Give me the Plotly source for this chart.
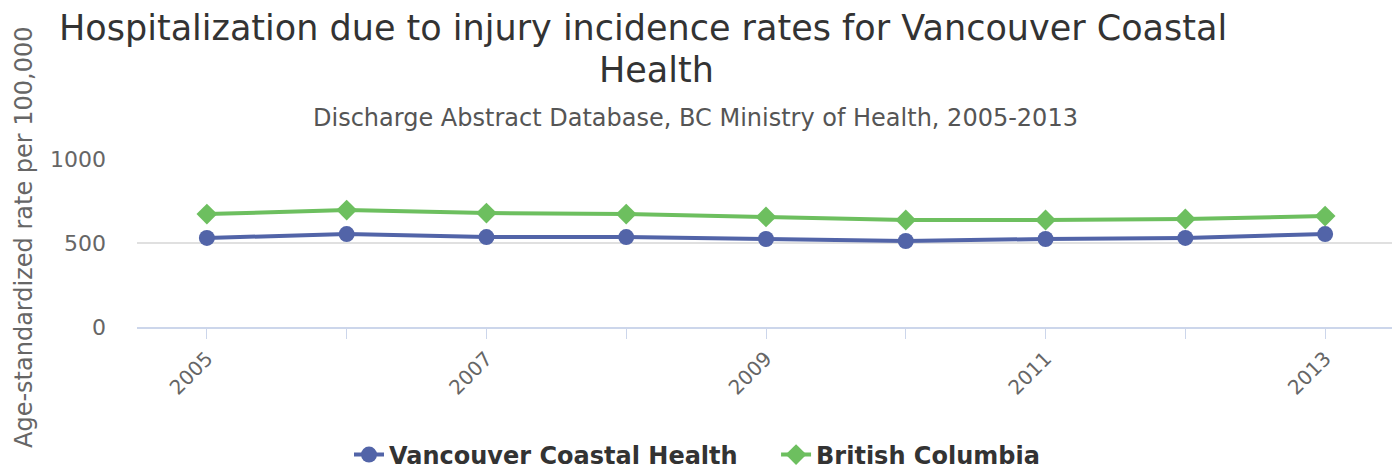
import plotly.graph_objects as go

years = [2005, 2006, 2007, 2008, 2009, 2010, 2011, 2012, 2013]
vch_rate = [530, 553, 535, 535, 524, 512, 524, 530, 553]
bc_rate = [672, 696, 678, 672, 655, 637, 637, 643, 660]
tick_labels = [str(y) if y % 2 == 1 else "" for y in years]

FONT = "DejaVu Sans"
BLUE = "#5264a8"
GREEN = "#6dbf5f"

# page body has an 8px margin, so the figure is drawn 8px smaller and shifted
OFF = 8
W, H = 1400 - OFF, 470 - OFF
# plot area in page pixels: x 137..1395, y 159..327
PL, PR, PT, PB = 137 - OFF, 1395 - OFF, 159 - OFF, 327 - OFF


def px_x(px):
    return (px - OFF - PL) / (PR - PL)


def px_y(py):
    return (PB - (py - OFF)) / (PB - PT)


fig = go.Figure()
fig.add_trace(go.Scatter(
    x=years, y=vch_rate, name="Vancouver Coastal Health    ", mode="lines+markers",
    line=dict(color=BLUE, width=4), marker=dict(symbol="circle", size=16, color=BLUE),
))
fig.add_trace(go.Scatter(
    x=years, y=bc_rate, name="British Columbia", mode="lines+markers",
    line=dict(color=GREEN, width=4), marker=dict(symbol="diamond", size=16, color=GREEN),
))

title_font = dict(size=35, color="#333333", family=FONT)

fig.update_layout(
    width=W, height=H,
    margin=dict(l=PL, r=W - PR, t=PT, b=H - PB),
    paper_bgcolor="#ffffff", plot_bgcolor="#ffffff",
    font=dict(family=FONT, color="#666666"),
    showlegend=True,
    legend=dict(
        orientation="h", xref="container", x=(697 - OFF) / W, xanchor="center",
        yref="container", y=1 - (455 - OFF) / H, yanchor="middle",
        font=dict(size=24, color="#333333", family=FONT, weight="bold"),
        itemwidth=30, tracegroupgap=0,
    ),
    xaxis=dict(
        range=[2004.5, 2013.5], tickmode="array", tickvals=years, ticktext=tick_labels,
        tickangle=-45, ticks="outside", ticklen=10, tickcolor="#ccd6eb", tickwidth=1,
        showline=True, linecolor="#ccd6eb", linewidth=2, showgrid=False, zeroline=False,
        tickfont=dict(size=20, color="#666666"), automargin=False,
    ),
    yaxis=dict(
        range=[0, 1000], tickvals=[0, 500, 1000], showgrid=True, gridcolor="#e0e0e0",
        gridwidth=2, zeroline=False, showline=False, ticks="", ticklabelstandoff=30,
        tickfont=dict(size=22, color="#666666"), automargin=False,
    ),
    annotations=[
        dict(text="Hospitalization due to injury incidence rates for Vancouver Coastal",
             xref="paper", yref="paper", x=px_x(643), y=px_y(28),
             xanchor="center", yanchor="middle", showarrow=False, font=title_font),
        dict(text="Health",
             xref="paper", yref="paper", x=px_x(656), y=px_y(70),
             xanchor="center", yanchor="middle", showarrow=False, font=title_font),
        dict(text="Discharge Abstract Database, BC Ministry of Health, 2005-2013",
             xref="paper", yref="paper", x=px_x(695), y=px_y(118),
             xanchor="center", yanchor="middle", showarrow=False,
             font=dict(size=24, color="#555555", family=FONT)),
        dict(text="Age-standardized rate per 100,000",
             xref="paper", yref="paper", x=px_x(24), y=px_y(237),
             xanchor="center", yanchor="middle", textangle=-90, showarrow=False,
             font=dict(size=24, color="#666666", family=FONT)),
    ],
)

fig.write_html("out.html")
